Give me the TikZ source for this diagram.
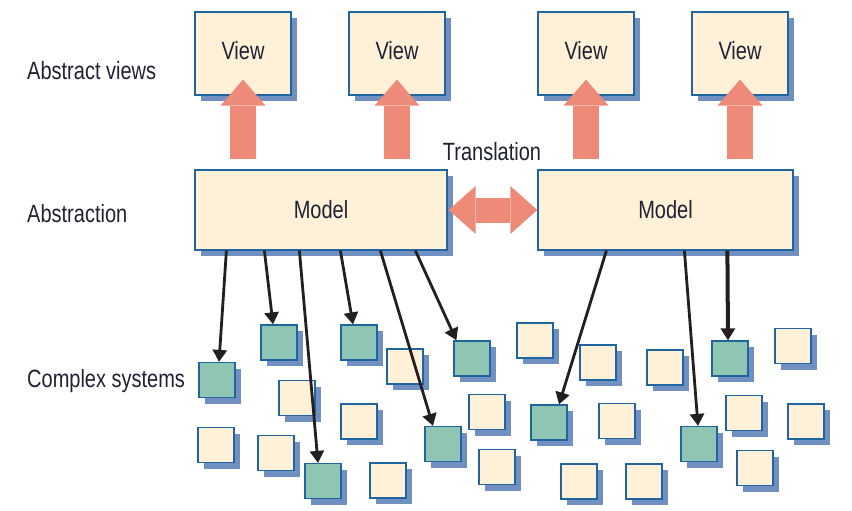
\documentclass[tikz,border=0pt]{standalone}
\usepackage{fontspec}
\setmainfont{Liberation Sans}[FakeStretch=0.8]
\usepackage{xcolor}
\usepackage{tikz}
\usetikzlibrary{arrows.meta,shadows}

\definecolor{cream}{HTML}{FFF0D8}
\definecolor{edgeblue}{HTML}{2064A0}
\definecolor{shadeblue}{HTML}{6F90C0}
\definecolor{sysgreen}{HTML}{8FC6B3}
\definecolor{salmon}{HTML}{EE8A78}
\definecolor{ink}{HTML}{231F20}
\definecolor{txt}{HTML}{1F2233}

\begin{document}
\begin{tikzpicture}[
  x=1pt, y=-1pt,
  font=\fontsize{25}{30}\selectfont, text=txt,
  box/.style={draw=edgeblue, line width=1.2pt, fill=cream, inner sep=0pt,
              drop shadow={shadow xshift=6pt, shadow yshift=-6pt,
                           fill=shadeblue, opacity=1}},
  sq/.style={box, minimum width=36pt, minimum height=35pt},
  gsq/.style={sq, fill=sysgreen},
  lbl/.style={anchor=west, inner sep=0pt},
  arr/.style={draw=ink, line width=2.8pt, -{Triangle[length=12pt, width=14pt]}},
  bigarr/.style={draw=salmon, line width=26pt,
                 -{Triangle[length=26pt, width=45pt, line width=0pt]}},
  dblarr/.style={draw=salmon, line width=25pt,
                 {Triangle[length=27pt, width=48pt, line width=0pt]}-{Triangle[length=27pt, width=48pt, line width=0pt]}}
]
\useasboundingbox (0,0) rectangle (852,511);
% Row labels
\node[lbl] (lviews) at (27,71)  {Abstract views};
\node[lbl] (labs)   at (27,214) {Abstraction};
\node[lbl] (lsys)   at (27,381) {Complex systems};
% Views
\node[box, minimum width=96pt, minimum height=83pt, text depth=6pt] (view1) at (243,53.5) {View};
\node[box, minimum width=96pt, minimum height=83pt, text depth=6pt] (view2) at (397,53.5) {View};
\node[box, minimum width=96pt, minimum height=83pt, text depth=6pt] (view3) at (586,53.5) {View};
\node[box, minimum width=96pt, minimum height=83pt, text depth=6pt] (view4) at (740,53.5) {View};
% Models
\node[box, minimum width=252pt, minimum height=80pt] (modl) at (321,210)   {Model};
\node[box, minimum width=255pt, minimum height=80pt] (modr) at (665.5,210) {Model};
\node (trans) at (492,152) {Translation};
% Complex systems: elements in the model
\node[gsq] (g1) at (217,380)   {};
\node[gsq] (g2) at (279,342.5) {};
\node[gsq] (g3) at (359,342.5) {};
\node[gsq] (g4) at (472,358.5) {};
\node[gsq] (g5) at (443,444)   {};
\node[gsq] (g6) at (323,481)   {};
\node[gsq] (g7) at (549,422.5) {};
\node[gsq] (g8) at (730,358.5) {};
\node[gsq] (g9) at (699,444)   {};
% Complex systems: other elements
\node[sq] (c1)  at (405,366.5) {};
\node[sq] (c2)  at (297,398)   {};
\node[sq] (c3)  at (359,421.5) {};
\node[sq] (c4)  at (487,412)   {};
\node[sq] (c5)  at (216,445)   {};
\node[sq] (c6)  at (276,453)   {};
\node[sq] (c7)  at (388,480.5) {};
\node[sq] (c8)  at (497,467)   {};
\node[sq] (c9)  at (535,340.5) {};
\node[sq] (c10) at (598,362.5) {};
\node[sq] (c11) at (665,367.5) {};
\node[sq] (c12) at (793,346)   {};
\node[sq] (c13) at (617,421)   {};
\node[sq] (c14) at (744,413)   {};
\node[sq] (c15) at (806,421.5) {};
\node[sq] (c16) at (755,468)   {};
\node[sq] (c17) at (579,481.5) {};
\node[sq] (c18) at (644,481.5) {};
% Arrows
\foreach \v/\m in {view1/modl, view2/modl, view3/modr, view4/modr}
  \draw[bigarr] ([yshift=10pt]\m.north -| \v) -- ([yshift=16pt]\v.south);
\draw[dblarr] ([xshift=1pt]modl.east) -- (modr.west);
\draw[arr] ([xshift=32pt]modl.south west)  -- ([xshift=2pt]g1.north);
\draw[arr] ([xshift=70pt]modl.south west)  -- ([xshift=-6pt]g2.north);
\draw[arr] ([xshift=105pt]modl.south west) -- ([xshift=-5pt]g6.north);
\draw[arr] ([xshift=146pt]modl.south west) -- ([xshift=-6pt]g3.north);
\draw[arr] ([xshift=186pt]modl.south west) -- ([xshift=-10pt]g5.north);
\draw[arr] ([xshift=221pt]modl.south west) -- ([xshift=3pt]g4.north west);
\draw[arr] ([xshift=69pt]modr.south west)  -- ([xshift=10pt]g7.north);
\draw[arr] ([xshift=147pt]modr.south west) -- ([xshift=-1pt]g9.north);
\draw[arr, line width=4pt] ([xshift=190pt]modr.south west) -- ([xshift=-2pt]g8.north);
\end{tikzpicture}
\end{document}
